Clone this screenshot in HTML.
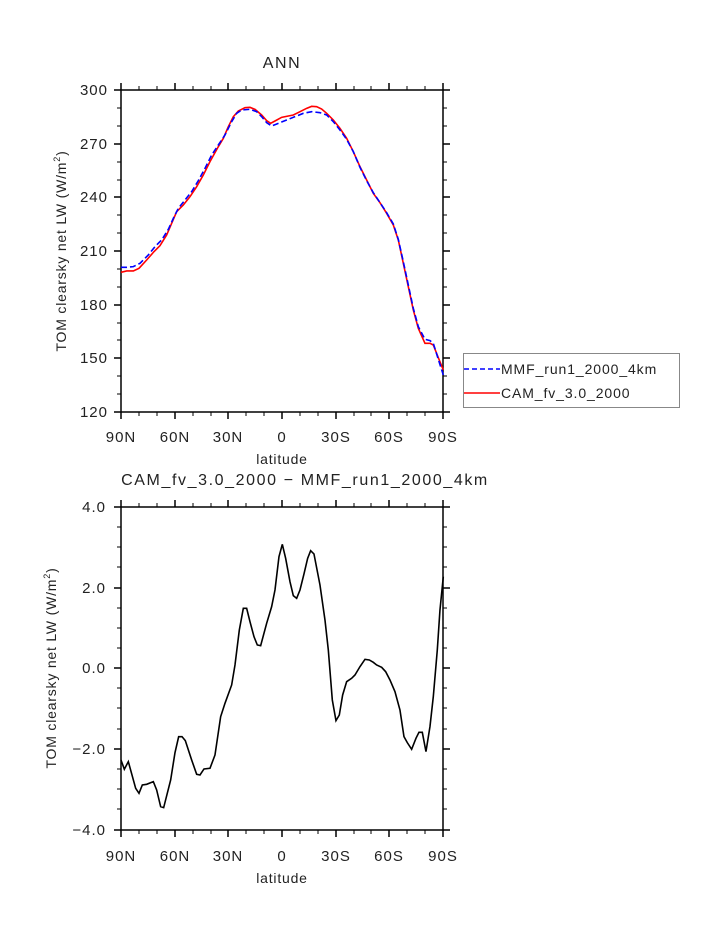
<!DOCTYPE html>
<html><head><meta charset="utf-8"><style>
html,body{margin:0;padding:0;background:#fff;}
svg text{font-family:"Liberation Sans",sans-serif;fill:#222;}
</style></head><body>
<svg width="723" height="935" viewBox="0 0 723 935" xmlns="http://www.w3.org/2000/svg">
<g font-size="16" text-anchor="middle" letter-spacing="1.6">
<text x="282" y="68">ANN</text>
<text x="305" y="485">CAM_fv_3.0_2000 − MMF_run1_2000_4km</text>
</g>
<g font-size="14" text-anchor="middle" letter-spacing="0.8">
<text x="282" y="464">latitude</text>
<text x="282" y="883">latitude</text>
</g>
<!-- top frame -->
<g stroke="#000" stroke-width="1.5" fill="none">
<rect x="121" y="90" width="322" height="322"/>
<path d="M121,90v-7M175,90v-7M228,90v-7M282,90v-7M336,90v-7M389,90v-7M443,90v-7M121,412v7M175,412v7M228,412v7M282,412v7M336,412v7M389,412v7M443,412v7
M121,90h-7M121,144h-7M121,197h-7M121,251h-7M121,305h-7M121,358h-7M121,412h-7M443,90h7M443,144h7M443,197h7M443,251h7M443,305h7M443,358h7M443,412h7"/>
<path stroke-width="1" d="M139,90v-4M157,90v-4M193,90v-4M211,90v-4M246,90v-4M264,90v-4M300,90v-4M318,90v-4M354,90v-4M371,90v-4M407,90v-4M425,90v-4
M139,412v4M157,412v4M193,412v4M211,412v4M246,412v4M264,412v4M300,412v4M318,412v4M354,412v4M371,412v4M407,412v4M425,412v4
M121,108h-4M121,126h-4M121,162h-4M121,180h-4M121,215h-4M121,233h-4M121,269h-4M121,287h-4M121,323h-4M121,340h-4M121,376h-4M121,394h-4
M443,108h4M443,126h4M443,162h4M443,180h4M443,215h4M443,233h4M443,269h4M443,287h4M443,323h4M443,340h4M443,376h4M443,394h4"/>
</g>
<g font-size="15" text-anchor="end" letter-spacing="1">
<text x="108" y="95">300</text><text x="108" y="149">270</text><text x="108" y="202">240</text><text x="108" y="256">210</text><text x="108" y="310">180</text><text x="108" y="363">150</text><text x="108" y="417">120</text>
</g>
<g font-size="15" text-anchor="middle" letter-spacing="1">
<text x="121" y="442">90N</text><text x="175" y="442">60N</text><text x="228" y="442">30N</text><text x="282" y="442">0</text><text x="336" y="442">30S</text><text x="389" y="442">60S</text><text x="443" y="442">90S</text>
<text x="121" y="861">90N</text><text x="175" y="861">60N</text><text x="228" y="861">30N</text><text x="282" y="861">0</text><text x="336" y="861">30S</text><text x="389" y="861">60S</text><text x="443" y="861">90S</text>
</g>
<text font-size="14" letter-spacing="0.8" transform="translate(66,251) rotate(-90)" text-anchor="middle">TOM clearsky net LW (W/m<tspan font-size="9" dy="-6">2</tspan><tspan dy="6">)</tspan></text>
<text font-size="14" letter-spacing="0.8" transform="translate(56,668) rotate(-90)" text-anchor="middle">TOM clearsky net LW (W/m<tspan font-size="9" dy="-6">2</tspan><tspan dy="6">)</tspan></text>
<g transform="translate(100,80) scale(0.3333)" fill="none" stroke-width="1.6">
<polyline vector-effect="non-scaling-stroke" stroke="#ff0000" points="63,577 80,573 100,573 117,565 140,540 162,515 180,497 200,465 215,430 230,395 250,375 270,350 290,320 310,285 330,245 355,200 370,175 385,140 400,110 415,93 435,83 450,82 465,88 485,105 500,122 512,130 525,123 545,112 565,108 580,105 600,95 620,85 635,79 650,80 665,87 680,100 700,120 720,145 740,175 760,215 780,260 800,300 820,340 840,368 860,400 880,435 895,480 910,550 925,620 940,690 955,745 975,790 990,790 1000,795 1015,833 1030,870"/>
<polyline vector-effect="non-scaling-stroke" stroke="#0000ff" stroke-dasharray="6,3" points="63,562 80,562 100,560 120,550 145,525 165,500 185,480 205,448 220,415 235,385 255,360 275,335 295,302 315,265 335,225 355,195 375,165 395,125 410,100 425,90 450,88 470,95 485,110 500,128 515,138 535,130 560,120 585,110 610,100 635,95 660,98 680,105 700,125 720,150 740,178 760,215 780,262 800,302 820,338 840,368 860,398 880,432 895,478 910,545 925,615 940,685 955,740 975,778 990,782 1000,790 1015,838 1030,885"/>
</g>
<!-- legend -->
<rect x="463.5" y="353.5" width="216" height="54" fill="none" stroke="#888" stroke-width="1"/>
<line x1="464" y1="369" x2="500" y2="369" stroke="#0000ff" stroke-width="1.5" stroke-dasharray="5,3"/>
<line x1="464" y1="393" x2="500" y2="393" stroke="#ff0000" stroke-width="1.5"/>
<text x="501" y="374" font-size="14" letter-spacing="0.9">MMF_run1_2000_4km</text>
<text x="501" y="398" font-size="14" letter-spacing="0.9">CAM_fv_3.0_2000</text>
<!-- bottom frame -->
<g stroke="#000" stroke-width="1.5" fill="none">
<rect x="121" y="507" width="322" height="323"/>
<path d="M121,507v-7M175,507v-7M228,507v-7M282,507v-7M336,507v-7M389,507v-7M443,507v-7M121,830v7M175,830v7M228,830v7M282,830v7M336,830v7M389,830v7M443,830v7
M121,507h-7M121,588h-7M121,668h-7M121,749h-7M121,830h-7M443,507h7M443,588h7M443,668h7M443,749h7M443,830h7"/>
<path stroke-width="1" d="M139,507v-4M157,507v-4M193,507v-4M211,507v-4M246,507v-4M264,507v-4M300,507v-4M318,507v-4M354,507v-4M371,507v-4M407,507v-4M425,507v-4
M139,830v4M157,830v4M193,830v4M211,830v4M246,830v4M264,830v4M300,830v4M318,830v4M354,830v4M371,830v4M407,830v4M425,830v4
M121,527h-4M121,547h-4M121,567h-4M121,608h-4M121,628h-4M121,648h-4M121,688h-4M121,708h-4M121,729h-4M121,769h-4M121,789h-4M121,809h-4
M443,527h4M443,547h4M443,567h4M443,608h4M443,628h4M443,648h4M443,688h4M443,708h4M443,729h4M443,769h4M443,789h4M443,809h4"/>
</g>
<g font-size="15" text-anchor="end" letter-spacing="1">
<text x="106" y="512">4.0</text><text x="106" y="593">2.0</text><text x="106" y="673">0.0</text><text x="106" y="754">−2.0</text><text x="106" y="835">−4.0</text>
</g>
<g transform="translate(100,500) scale(0.3333)" fill="none">
<polyline vector-effect="non-scaling-stroke" stroke="#000" stroke-width="1.6" points="63,780 73,808 85,785 107,865 117,880 127,855 140,853 160,845 170,870 182,920 191,923 212,840 225,758 236,710 246,710 256,722 275,780 290,823 300,825 312,807 330,805 345,765 362,650 375,610 395,555 405,495 418,390 430,325 440,325 450,365 462,410 472,435 482,437 500,370 515,320 525,270 537,170 547,133 557,175 570,245 580,287 590,295 600,270 612,222 623,175 632,152 642,162 660,255 675,360 685,450 697,600 708,662 718,645 728,585 740,545 755,535 765,525 780,500 795,478 808,480 820,487 830,495 845,502 857,515 870,540 885,575 900,630 912,710 922,728 935,748 948,715 957,697 967,697 978,755 990,680 1000,590 1012,450 1020,330 1030,230"/>
</g>
</svg>
</body></html>
